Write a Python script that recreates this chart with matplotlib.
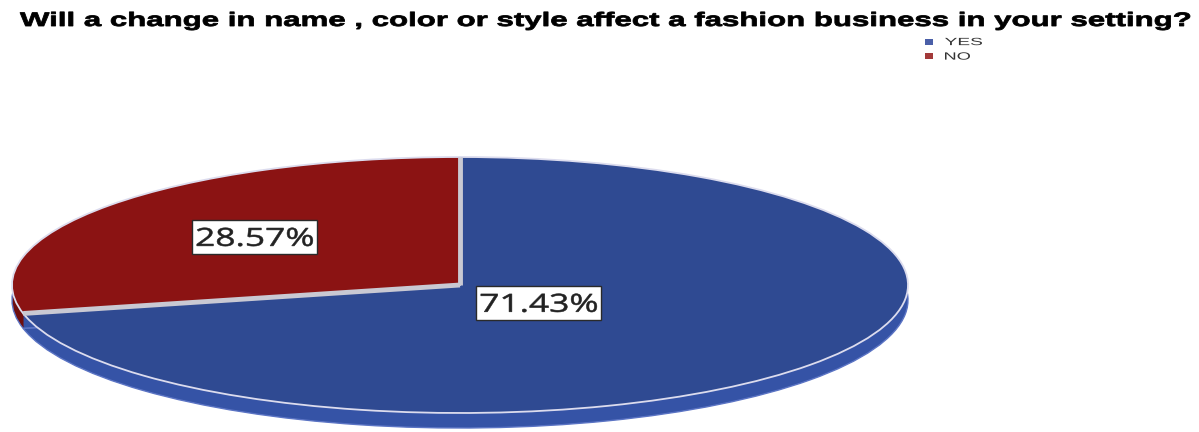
import numpy as np
import matplotlib
matplotlib.use('Agg')
import matplotlib.pyplot as plt
from matplotlib.textpath import TextPath
from matplotlib.patches import PathPatch, Rectangle
from matplotlib.font_manager import FontProperties
from matplotlib.transforms import Affine2D

# Survey answers (pie goes counter-clockwise from 12 o'clock: NO first, then YES)
answers = ['NO', 'YES']
shares = [28.57, 71.43]
top_colors = ['#8b1313', '#2f4a92']
side_colors = ['#6f0e0e', '#3553a6']
legend_order = ['YES', 'NO']
legend_colors = {'YES': '#4a5fa8', 'NO': '#a33a3a'}
title = 'Will a change in name , color or style affect a fashion business in your setting?'

W, H = 1199, 432
fig = plt.figure(figsize=(W / 100, H / 100), dpi=100)

depth = 15 / 128  # thickness of the tilted disc, in data units
ax = fig.add_axes([12 / W, 4 / H, 896 / W, 271 / H])


def wide_text(s, x, y, size, width, weight='normal', family='Open Sans',
              ha='left', va='baseline', color='black', stroke=0.0, zorder=5):
    """Draw s as a path, squeezed/stretched horizontally to a given pixel width."""
    path = TextPath((0, 0), s, size=size, prop=FontProperties(family=family, weight=weight))
    ext = path.get_extents()
    sx = width / ext.width
    if ha == 'center':
        x0 = x - width / 2 - ext.x0 * sx
    else:
        x0 = x - ext.x0 * sx
    if va == 'center':
        y0 = y - (ext.y0 + ext.height / 2)
    else:
        y0 = y
    tr = Affine2D().scale(sx, 1).translate(x0, y0)
    patch = PathPatch(path, facecolor=color, edgecolor=color if stroke else 'none',
                      lw=stroke, transform=tr, zorder=zorder)
    fig.add_artist(patch)
    return patch


# side of the disc: stack of darker copies going down
for off in np.linspace(-depth, -0.01, 20):
    ax.pie(shares, colors=side_colors, startangle=90, counterclock=True,
           center=(0, off), radius=1, wedgeprops=dict(linewidth=0))
# thin light rim at the bottom of the side
ax.pie(shares, colors=['none', 'none'], startangle=90, counterclock=True,
       center=(0, -depth), radius=1, wedgeprops=dict(linewidth=1.0, edgecolor='#5b74c4'))

# top surface
wedges, _ = ax.pie(shares, colors=top_colors, startangle=90, counterclock=True,
                   center=(0, 0), radius=1,
                   wedgeprops=dict(linewidth=1.3, edgecolor='#dcdcee'))

# light separators between the slices
angle = 90.0
for v in shares:
    a = np.deg2rad(angle)
    ax.plot([0, np.cos(a)], [0, np.sin(a)], color='#c9c9d3', lw=3.5,
            solid_capstyle='butt', zorder=4)
    angle += v / sum(shares) * 360

ax.set_aspect('auto')
ax.set_xlim(-1, 1)
ax.set_ylim(-1 - depth, 1)
ax.axis('off')

# percentage labels in white boxes
label_pos = {'NO': (-0.458, 0.375), 'YES': (0.176, -0.14)}
for name, v in zip(answers, shares):
    px, py = ax.transData.transform(label_pos[name])
    bw, bh = 125, 34
    fig.add_artist(Rectangle((px - bw / 2, py - bh / 2), bw, bh,
                             facecolor='white', edgecolor='#2a2a2a', lw=1.0,
                             transform=Affine2D(), zorder=5))
    wide_text(f'{v:.2f}%', px, py, size=25, width=116, family='Open Sans',
              ha='center', va='center', color='#222222', stroke=0.4, zorder=6)

# title
wide_text(title, 20, H - 26, size=19.5, width=1170, weight='bold',
          family='Liberation Sans', color='black', stroke=0.6)

# legend
for i, name in enumerate(legend_order):
    yc = H - (41.5 + 14.5 * i)
    fig.add_artist(Rectangle((925, yc - 3), 8, 6, facecolor=legend_colors[name],
                             edgecolor='none', transform=Affine2D(), zorder=5))
    wide_text(name, 945, yc, size=10.5, width=37 if name == 'YES' else 25,
              family='Liberation Sans', va='center', color='#333333')

fig.savefig('out.png', dpi=100)
plt.close(fig)
